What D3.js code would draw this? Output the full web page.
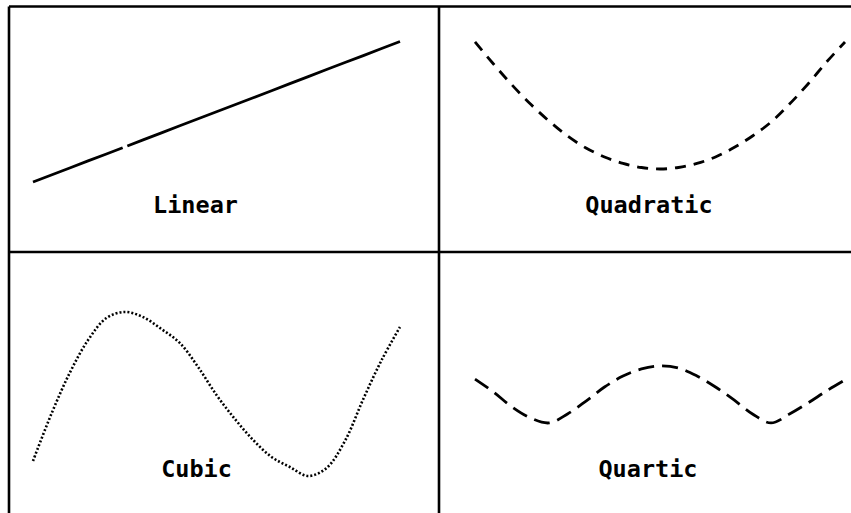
<!DOCTYPE html>
<html>
<head>
<meta charset="utf-8">
<script src="https://cdn.jsdelivr.net/npm/d3@7"></script>
<style>
  body { margin: 0; background: #fff; }
  svg { display: block; }
</style>
</head>
<body>
<div id="chart"></div>
<script>
// shared x positions (percent of curve span)
var xs = [0, 5, 10, 15, 20, 25, 30, 35, 40, 45, 50, 55, 60, 65, 70, 75, 80, 85, 90, 95, 100];

// y values (percent of row height)
var linearY = [5.3, 10.0, 14.7, 19.4, 24.0, 28.7, 33.4, 38.1, 42.8, 47.5, 52.2, 56.8, 61.5, 66.2, 70.9, 75.6, 80.3, 85.0, 89.6, 94.3, 99.0];
var quadraticY = [98.7, 84, 70, 57.3, 46, 36, 28, 22, 17.7, 15, 14, 15, 17.7, 22, 28.3, 36, 45.3, 57.3, 70.7, 85.3, 98.7];
var cubicY = [15.3, 40, 61.6, 78.9, 90.5, 93.7, 91, 84.7, 77.4, 64.7, 50, 37.4, 26.3, 17.4, 12.1, 7.4, 11.6, 25.8, 47.9, 68.4, 85.8];
var quarticY = [58.4, 51.6, 43.7, 37.9, 35.3, 40, 46.8, 54.2, 60, 63.7, 65.3, 64.2, 60, 54.2, 47.4, 40, 35.3, 40, 45.8, 52.1, 57.9];

var labels = ["Linear", "Quadratic", "Cubic", "Quartic"];

var svgWidth = 851;
var svgHeight = 513;

var svg = d3.select("#chart")
    .append("svg")
    .attr("width", svgWidth)
    .attr("height", svgHeight);

svg.append("rect")
    .attr("width", svgWidth)
    .attr("height", svgHeight)
    .attr("fill", "#fff");

// column / row scales
var xLeft = d3.scaleLinear().domain([0, 100]).range([33, 400]);
var xRight = d3.scaleLinear().domain([0, 100]).range([475, 845]);
var yTop = d3.scaleLinear().domain([0, 100]).range([190, 40]);
var yBottom = d3.scaleLinear().domain([0, 100]).range([490, 300]);

var panels = [
    { label: labels[0], values: linearY, x: xLeft, y: yTop, curve: d3.curveLinear, dash: "96,5,2000", width: 2.8, lx: 195.5, ly: 212.5 },
    { label: labels[1], values: quadraticY, x: xRight, y: yTop, curve: d3.curveCatmullRom, dash: "11,8", width: 2.8, lx: 649, ly: 212.5 },
    { label: labels[2], values: cubicY, x: xLeft, y: yBottom, curve: d3.curveCatmullRom, dash: "2,2", width: 2.6, lx: 196.5, ly: 477 },
    { label: labels[3], values: quarticY, x: xRight, y: yBottom, curve: d3.curveCatmullRom, dash: "16,8", width: 2.8, lx: 648, ly: 477 }
];

// frame
var frame = svg.append("g")
    .attr("stroke", "#000")
    .attr("stroke-width", 2.6)
    .attr("fill", "none");

frame.append("path").attr("d", "M9,6.5H851");
frame.append("path").attr("d", "M9,6.5V513");
frame.append("path").attr("d", "M439,6.5V513");
frame.append("path").attr("d", "M9,252H851");

panels.forEach(function(p) {
    var line = d3.line()
        .x(function(d, i) { return p.x(xs[i]); })
        .y(function(d) { return p.y(d); })
        .curve(p.curve);

    svg.append("path")
        .datum(p.values)
        .attr("d", line)
        .attr("fill", "none")
        .attr("stroke", "#000")
        .attr("stroke-width", p.width)
        .attr("stroke-dasharray", p.dash);

    svg.append("text")
        .attr("x", p.lx)
        .attr("y", p.ly)
        .attr("text-anchor", "middle")
        .attr("font-family", "DejaVu Sans Mono")
        .attr("font-weight", "bold")
        .attr("font-size", "23.5px")
        .attr("fill", "#000")
        .text(p.label);
});
</script>
</body>
</html>
